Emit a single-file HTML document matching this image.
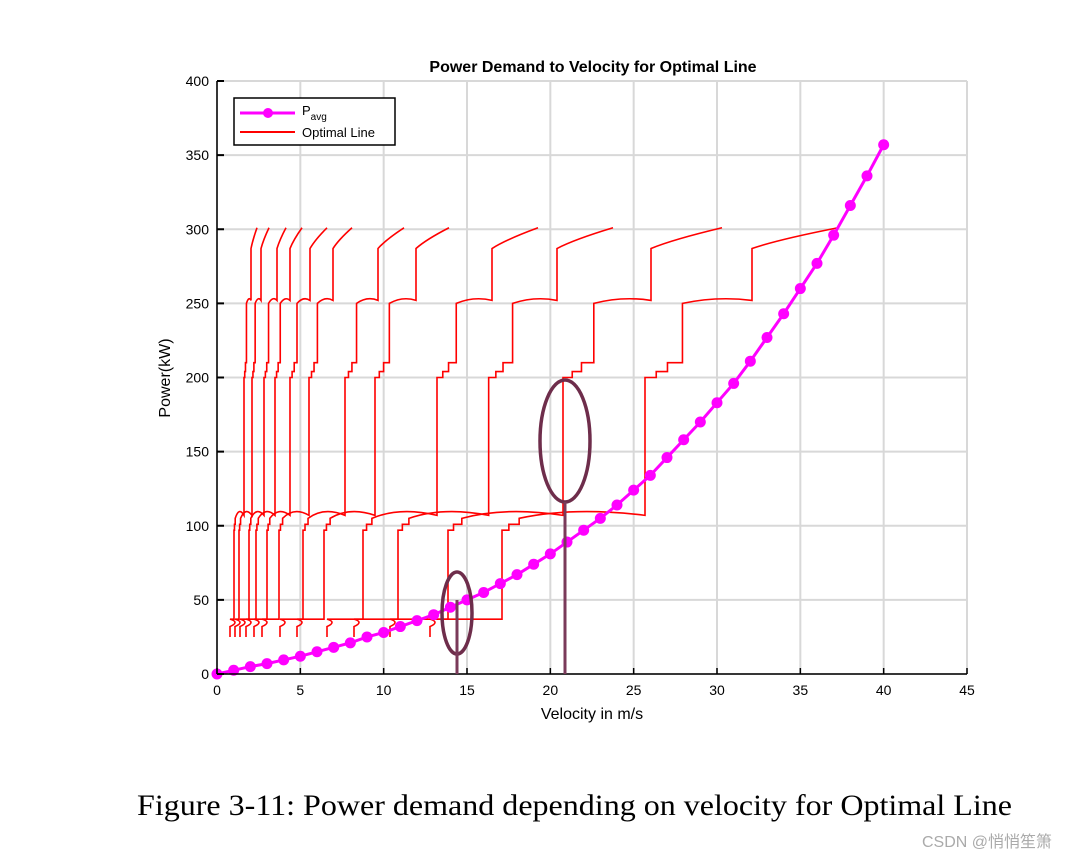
<!DOCTYPE html>
<html><head><meta charset="utf-8"><style>
body{margin:0;background:#fff;}
svg text{font-family:"Liberation Sans",sans-serif;}
</style></head><body>
<svg id="c" width="1069" height="859" xmlns="http://www.w3.org/2000/svg">
<g id="grid"></g>
<g id="red"></g>
<g id="mag"></g>
<g id="axes"></g>
<text x="593" y="72" text-anchor="middle" font-size="16" font-weight="bold">Power Demand to Velocity for Optimal Line</text>
<text x="592" y="719" text-anchor="middle" font-size="16">Velocity in m/s</text>
<text x="170" y="378" text-anchor="middle" font-size="16" transform="rotate(-90 170 378)">Power(kW)</text>
<g>
<rect x="234" y="98" width="161" height="47" fill="#fff" stroke="#000" stroke-width="1.5"/>
<line x1="240" y1="113" x2="295" y2="113" stroke="#f0f" stroke-width="3"/>
<circle cx="268" cy="113" r="5" fill="#f0f"/>
<text x="302" y="115" font-size="13">P<tspan font-size="10" dy="5">avg</tspan></text>
<line x1="240" y1="132" x2="295" y2="132" stroke="#f00" stroke-width="2"/>
<text x="302" y="137" font-size="13">Optimal Line</text>
</g>
<g>
<ellipse cx="457" cy="613" rx="15" ry="41" fill="none" stroke="#6e2d4b" stroke-width="3.5"/>
<line x1="457" y1="600" x2="457" y2="674" stroke="#7a3a5a" stroke-width="3"/>
<ellipse cx="565" cy="441" rx="25" ry="61" fill="none" stroke="#6e2d4b" stroke-width="3.5"/>
<line x1="565" y1="502" x2="565" y2="674" stroke="#7a3a5a" stroke-width="3"/>
</g>
<text x="137" y="815" font-size="30" textLength="875" lengthAdjust="spacingAndGlyphs" style="font-family:'Liberation Serif',serif">Figure 3-11: Power demand depending on velocity for Optimal Line</text>
<text x="1052" y="847" text-anchor="end" font-size="16" fill="#aaa" style="font-family:'Liberation Sans','Noto Sans CJK SC',sans-serif">CSDN @悄悄笙箫</text>
</svg>
<script>
const xTicks=[0,5,10,15,20,25,30,35,40,45];
const yTicks=[0,50,100,150,200,250,300,350,400];
const vel=[0,1,2,3,4,5,6,7,8,9,10,11,12,13,14,15,16,17,18,19,20,21,22,23,24,25,26,27,28,29,30,31,32,33,34,35,36,37,38,39,40];
const pAvg=[0,2.5,5,7,9.5,12,15,18,21,25,28,32,36,40,45,50,55,61,67,74,81,89,97,105,114,124,134,146,158,170,183,196,211,227,243,260,277,296,316,336,357];
const startV=[0.78,1.08,1.38,1.74,2.22,2.7,3.78,4.8,6.6,8.22,10.38,12.78];
const lowV=[1.02,1.32,1.92,2.34,3.0,3.72,5.16,6.42,8.76,10.86,13.86,17.1];
const midV=[1.62,2.1,2.82,3.48,4.38,5.52,7.68,9.48,13.2,16.3,20.76,25.68];
const highV=[2.04,2.64,3.6,4.38,5.58,6.96,9.66,11.94,16.5,20.4,26.04,32.1];
const endV=[2.4,3.12,4.14,5.1,6.6,8.1,11.22,13.92,19.26,23.76,30.3,37.26];
const X=v=>217+v*750/45, Y=p=>674-p*593/400;
const NS="http://www.w3.org/2000/svg";
function mk(t,a,p){const e=document.createElementNS(NS,t);for(const k in a)e.setAttribute(k,a[k]);p.appendChild(e);return e;}
const g=document.getElementById('grid'),ax=document.getElementById('axes');
xTicks.forEach(v=>{const l=mk('line',{x1:X(v),x2:X(v),y1:81,y2:674,stroke:'#d8d8d8','stroke-width':2},g);


mk('line',{x1:X(v),x2:X(v),y1:674,y2:668,stroke:'#000','stroke-width':1.5},ax);
const t=mk('text',{x:X(v),y:695,'text-anchor':'middle','font-size':14},ax);t.textContent=v;

});
yTicks.forEach(p=>{const l=mk('line',{x1:217,x2:967,y1:Y(p),y2:Y(p),stroke:'#d8d8d8','stroke-width':2},g);


mk('line',{x1:217,x2:224,y1:Y(p),y2:Y(p),stroke:'#000','stroke-width':2},ax);
const t=mk('text',{x:209,y:Y(p)+5,'text-anchor':'end','font-size':14},ax);t.textContent=p;

});
mk('line',{x1:217,x2:967,y1:674,y2:674,stroke:'#000','stroke-width':1.5},ax);
mk('line',{x1:217,x2:217,y1:81,y2:674,stroke:'#000','stroke-width':1.5},ax);
const r=document.getElementById('red');
for(let i=0;i<lowV.length;i++){
 const s=startV[i],a=lowV[i],b=midV[i],c=highV[i],e=endV[i];
 const st=(b-a)*0.12, st2=Math.min((c-b)*0.35,(b-a)*0.5+0.3);
 let d=`M${X(s)},${Y(25)} L${X(s)},${Y(32)} Q${X(s+0.6)},${Y(35)} ${X(s)},${Y(37)} L${X(a)},${Y(37)} L${X(a)},${Y(97)} L${X(a+st*0.4)},${Y(97)} L${X(a+st*0.4)},${Y(101)} L${X(a+st)},${Y(101)} L${X(a+st)},${Y(105)} Q${X((a+b)/2)},${Y(113)} ${X(b)},${Y(107)}`;
 d+=` L${X(b)},${Y(200)} L${X(b+st2*0.3)},${Y(200)} L${X(b+st2*0.3)},${Y(204)} L${X(b+st2*0.6)},${Y(204)} L${X(b+st2*0.6)},${Y(210)} L${X(b+st2)},${Y(210)} L${X(b+st2)},${Y(250)} Q${X((b+st2+c)/2)},${Y(255)} ${X(c)},${Y(252)}`;
 d+=` L${X(c)},${Y(287)} Q${X(c+(e-c)*0.3)},${Y(293)} ${X(e)},${Y(301)}`;
 const p=mk('path',{d:d,fill:'none',stroke:'#f00','stroke-width':1.6},r);
 
 
}
const m=document.getElementById('mag');
const pl=mk('polyline',{points:vel.map((v,i)=>X(v)+','+Y(pAvg[i])).join(' '),fill:'none',stroke:'#f0f','stroke-width':3},m);


vel.forEach((v,i)=>{const c=mk('circle',{cx:X(v),cy:Y(pAvg[i]),r:5.5,fill:'#f0f'},m);

});
</script>
</body></html>
